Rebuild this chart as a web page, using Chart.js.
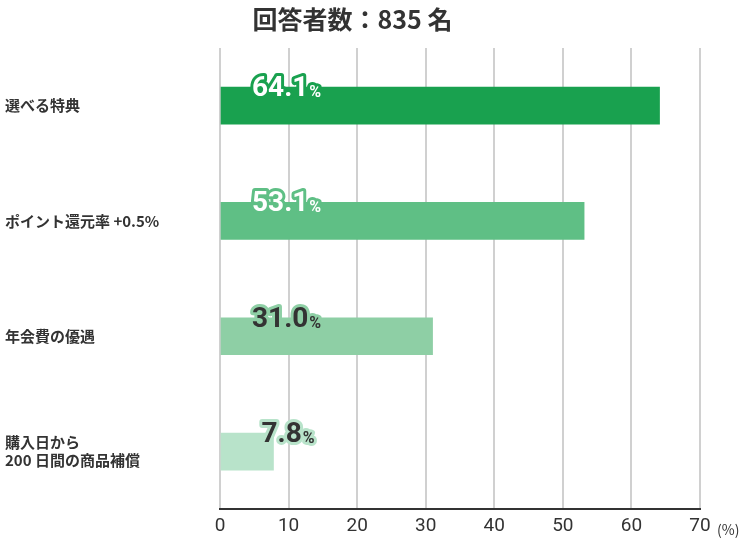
<!DOCTYPE html>
<html>
<head>
<meta charset="utf-8">
<script src="https://cdn.jsdelivr.net/npm/chart.js@4"></script>
<style>
  body { margin: 0; background: #fff; }
  #wrap { width: 750px; height: 550px; }
</style>
</head>
<body>
<div id="wrap"><canvas id="chart"></canvas></div>
<script>
const FONT = "'Noto Sans CJK JP', 'Noto Sans', sans-serif";
const categories = ['選べる特典', 'ポイント還元率 +0.5%', '年会費の優遇', ['購入日から', '200 日間の商品補償']];
const values = [64.1, 53.1, 31.0, 7.8];
const barColors = ['#19a14f', '#5fbf85', '#8ecfa5', '#b8e3ca'];
const labelColors = ['#ffffff', '#ffffff', '#333333', '#333333'];
const xTicks = [0, 10, 20, 30, 40, 50, 60, 70];

// value labels with an outline in the bar colour
const valueLabels = {
  id: 'valueLabels',
  afterDatasetsDraw(chart) {
    const ctx = chart.ctx;
    const meta = chart.getDatasetMeta(0);
    const x0 = chart.scales.x.getPixelForValue(0);
    ctx.save();
    meta.data.forEach((bar, i) => {
      const big = values[i].toFixed(1);
      const x = (bar.x - x0 < 80) ? bar.x - 12 : x0 + 32;
      const y = bar.y - bar.height / 2 + 2;
      ctx.textBaseline = 'middle';
      ctx.lineJoin = 'round';
      ctx.font = "bold 28px Roboto, sans-serif";
      const w = ctx.measureText(big).width;
      ctx.strokeStyle = barColors[i];
      ctx.lineWidth = 6;
      ctx.strokeText(big, x, y);
      ctx.font = "bold 16px Roboto, sans-serif";
      ctx.strokeText('%', x + w + 1, y + 4);
      ctx.fillStyle = labelColors[i];
      ctx.font = "bold 28px Roboto, sans-serif";
      ctx.fillText(big, x, y);
      ctx.font = "bold 16px Roboto, sans-serif";
      ctx.fillText('%', x + w + 1, y + 4);
    });
    // unit label after the last tick
    const xs = chart.scales.x;
    ctx.fillStyle = '#333';
    ctx.font = "14px " + FONT;
    ctx.textBaseline = 'middle';
    ctx.fillText('(%)', xs.getPixelForValue(70) + 17, xs.bottom - 14);
    ctx.restore();
  }
};

new Chart(document.getElementById('chart'), {
  type: 'bar',
  data: {
    labels: categories,
    datasets: [{
      data: values,
      backgroundColor: barColors,
      barThickness: 37
    }]
  },
  options: {
    indexAxis: 'y',
    responsive: true,
    maintainAspectRatio: false,
    animation: false,
    layout: { padding: { top: 4, right: 50, bottom: 6, left: 5 } },
    plugins: {
      legend: { display: false },
      tooltip: { enabled: false },
      title: {
        display: true,
        text: '回答者数：835 名',
        color: '#333',
        font: { family: FONT, size: 25, weight: 'bold' },
        padding: { top: 0, bottom: 14 }
      }
    },
    scales: {
      x: {
        min: 0, max: 70,
        afterBuildTicks(scale) { scale.ticks = xTicks.map(v => ({ value: v })); },
        grid: { color: '#d0d0d0', lineWidth: 2, drawTicks: false },
        border: { color: '#333', width: 2 },
        ticks: { color: '#333', padding: 6, font: { family: 'Roboto, sans-serif', size: 19 } }
      },
      y: {
        grid: { display: false },
        border: { display: false },
        afterFit(scale) { scale.width = 215; },
        ticks: {
          crossAlign: 'far',
          color: '#333',
          font: { family: FONT, size: 15, weight: 'bold' }
        }
      }
    }
  },
  plugins: [valueLabels]
});
</script>
</body>
</html>
